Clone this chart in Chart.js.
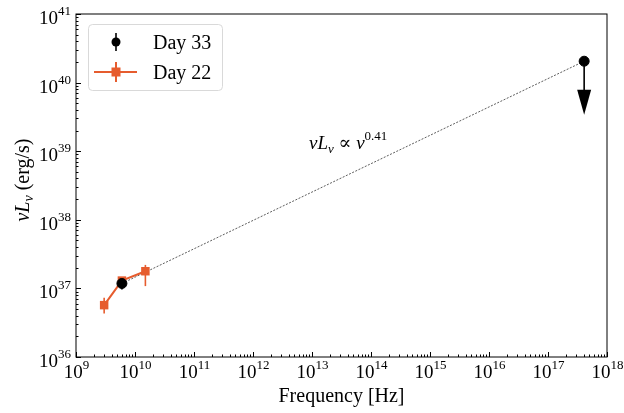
<!DOCTYPE html>
<html>
<head>
<meta charset="utf-8">
<script src="https://cdn.jsdelivr.net/npm/chart.js@4"></script>
<style>html,body{margin:0;padding:0;background:#fff}</style>
</head>
<body>
<canvas id="chart1" width="624" height="413"></canvas>
<script>
// radio SED, two epochs + X-ray upper limit
const freq33 = [6e9];
const lum33 = [1.18e37];
const lum33Lo = [0.96e37];
const lum33Hi = [1.30e37];

const freq22 = [3e9, 6e9, 1.5e10];
const lum22 = [5.7e36, 1.3e37, 1.78e37];
const lum22Lo = [4.3e36, 1.2e37, 1.08e37];
const lum22Hi = [7.3e36, 1.42e37, 2.2e37];

const xrayFreq = [4.1e17];
const xrayLimit = [2.05e40];
const xrayArrowTip = [3.4e39];

const xDecades = [9, 10, 11, 12, 13, 14, 15, 16, 17, 18];
const yDecades = [36, 37, 38, 39, 40, 41];

const orange = '#e65c2e';
const serif = '"Liberation Serif", "DejaVu Serif", serif';

const errorBars = {
  id: 'errorBars',
  beforeDatasetsDraw(chart) {
    const ctx = chart.ctx, xs = chart.scales.x, ys = chart.scales.y;
    ctx.save();
    ctx.lineWidth = 1.6;
    ctx.strokeStyle = orange;
    freq22.forEach((f, i) => {
      const px = xs.getPixelForValue(f);
      ctx.beginPath();
      ctx.moveTo(px, ys.getPixelForValue(lum22Lo[i]));
      ctx.lineTo(px, ys.getPixelForValue(lum22Hi[i]));
      ctx.stroke();
    });
    ctx.restore();
  },
  afterDatasetsDraw(chart) {
    const ctx = chart.ctx, xs = chart.scales.x, ys = chart.scales.y;
    ctx.save();
    ctx.lineWidth = 1.6;
    ctx.strokeStyle = '#000';
    freq33.forEach((f, i) => {
      const px = xs.getPixelForValue(f);
      ctx.beginPath();
      ctx.moveTo(px, ys.getPixelForValue(lum33Lo[i]));
      ctx.lineTo(px, ys.getPixelForValue(lum33Hi[i]));
      ctx.stroke();
    });
    // upper limit arrow
    const ax = xs.getPixelForValue(xrayFreq[0]);
    const ay0 = ys.getPixelForValue(xrayLimit[0]);
    const ay1 = ys.getPixelForValue(xrayArrowTip[0]);
    ctx.beginPath();
    ctx.moveTo(ax, ay0);
    ctx.lineTo(ax, ay1 - 24);
    ctx.stroke();
    ctx.fillStyle = '#000';
    ctx.beginPath();
    ctx.moveTo(ax - 7, ay1 - 25);
    ctx.lineTo(ax + 7, ay1 - 25);
    ctx.lineTo(ax, ay1);
    ctx.closePath();
    ctx.fill();
    ctx.restore();
  }
};

function pow10(ctx, exp, x, y, align) {
  ctx.font = '19px ' + serif;
  const wb = ctx.measureText('10').width;
  ctx.font = '13px ' + serif;
  const we = ctx.measureText(String(exp)).width;
  let x0 = align === 'right' ? x - wb - we : x - (wb + we) / 2;
  ctx.textAlign = 'left';
  ctx.font = '19px ' + serif;
  ctx.fillText('10', x0, y);
  ctx.font = '13px ' + serif;
  ctx.fillText(String(exp), x0 + wb, y - 9);
}

const axesFrame = {
  id: 'axesFrame',
  afterDraw(chart) {
    const ctx = chart.ctx, a = chart.chartArea;
    const xs = chart.scales.x, ys = chart.scales.y;
    ctx.save();
    ctx.strokeStyle = '#000';
    ctx.lineWidth = 1;
    ctx.strokeRect(a.left, a.top, a.right - a.left, a.bottom - a.top);
    ctx.fillStyle = '#000';
    ctx.textBaseline = 'alphabetic';
    // x ticks
    xDecades.forEach((d, k) => {
      const px = Math.round(xs.getPixelForValue(Math.pow(10, d))) + 0.5;
      ctx.beginPath();
      ctx.moveTo(px, a.bottom);
      ctx.lineTo(px, a.bottom - 5);
      ctx.stroke();
      pow10(ctx, d, px, a.bottom + 21, 'center');
      if (k < xDecades.length - 1) {
        for (let m = 2; m < 10; m++) {
          const mx = Math.round(xs.getPixelForValue(m * Math.pow(10, d))) + 0.5;
          ctx.beginPath();
          ctx.moveTo(mx, a.bottom);
          ctx.lineTo(mx, a.bottom - 2.5);
          ctx.stroke();
        }
      }
    });
    // y ticks
    yDecades.forEach((d, k) => {
      const py = Math.round(ys.getPixelForValue(Math.pow(10, d))) + 0.5;
      ctx.beginPath();
      ctx.moveTo(a.left, py);
      ctx.lineTo(a.left + 5, py);
      ctx.stroke();
      pow10(ctx, d, a.left - 5, py + 9, 'right');
      if (k < yDecades.length - 1) {
        for (let m = 2; m < 10; m++) {
          const my = Math.round(ys.getPixelForValue(m * Math.pow(10, d))) + 0.5;
          ctx.beginPath();
          ctx.moveTo(a.left, my);
          ctx.lineTo(a.left + 2.5, my);
          ctx.stroke();
        }
      }
    });
    // axis titles
    ctx.textAlign = 'center';
    ctx.font = '20px ' + serif;
    ctx.fillText('Frequency [Hz]', (a.left + a.right) / 2, 402);

    ctx.save();
    ctx.translate(29, 180);
    ctx.rotate(-Math.PI / 2);
    ctx.textAlign = 'left';
    const parts = [
      ['italic 20px ' + serif, 'νL', 0],
      ['italic 14px ' + serif, 'ν', 4],
      ['20px ' + serif, ' (erg/s)', 0]
    ];
    let tw = 0;
    parts.forEach(p => { ctx.font = p[0]; tw += ctx.measureText(p[1]).width; });
    let cx = -tw / 2;
    parts.forEach(p => {
      ctx.font = p[0];
      ctx.fillText(p[1], cx, p[2]);
      cx += ctx.measureText(p[1]).width;
    });
    ctx.restore();

    // slope annotation
    ctx.textAlign = 'left';
    const ann = [
      ['italic 19px ' + serif, 'νL', 0],
      ['italic 13px ' + serif, 'ν', 4],
      ['19px ' + serif, ' ∝ ', 0],
      ['italic 19px ' + serif, 'ν', 0],
      ['13px ' + serif, '0.41', -9]
    ];
    let ax = 309;
    ann.forEach(p => {
      ctx.font = p[0];
      ctx.fillText(p[1], ax, 149 + p[2]);
      ax += ctx.measureText(p[1]).width;
    });

    // legend
    const lx = 88, ly = 24, lw = 134, lh = 66;
    ctx.strokeStyle = '#d9d9d9';
    ctx.fillStyle = 'rgba(255,255,255,0.8)';
    ctx.beginPath();
    ctx.roundRect(lx + 0.5, ly + 0.5, lw, lh, 4);
    ctx.fill();
    ctx.stroke();
    // Day 33 entry
    ctx.strokeStyle = '#000';
    ctx.fillStyle = '#000';
    ctx.lineWidth = 1.6;
    ctx.beginPath();
    ctx.moveTo(116, 33);
    ctx.lineTo(116, 51);
    ctx.stroke();
    ctx.beginPath();
    ctx.arc(116, 42, 4.5, 0, Math.PI * 2);
    ctx.fill();
    // Day 22 entry
    ctx.strokeStyle = orange;
    ctx.fillStyle = orange;
    ctx.lineWidth = 2;
    ctx.beginPath();
    ctx.moveTo(94, 72);
    ctx.lineTo(137, 72);
    ctx.moveTo(116, 62);
    ctx.lineTo(116, 82);
    ctx.stroke();
    ctx.fillRect(111.5, 67.5, 9, 9);
    ctx.fillStyle = '#000';
    ctx.font = '20px ' + serif;
    ctx.fillText('Day 33', 153, 49);
    ctx.fillText('Day 22', 153, 79);
    ctx.restore();
  }
};

const data = {
  datasets: [
    {
      label: 'Day 33',
      data: freq33.map((f, i) => ({x: f, y: lum33[i]})).concat([{x: xrayFreq[0], y: xrayLimit[0]}]),
      showLine: false,
      backgroundColor: '#000',
      borderColor: '#000',
      pointRadius: 5,
      pointStyle: 'circle'
    },
    {
      label: 'Day 22',
      data: freq22.map((f, i) => ({x: f, y: lum22[i]})),
      showLine: true,
      borderColor: orange,
      backgroundColor: orange,
      borderWidth: 2,
      pointStyle: 'rect',
      pointRadius: 6,
      pointBorderWidth: 0
    },
    {
      label: 'slope',
      data: [{x: freq33[0], y: lum33[0]}, {x: xrayFreq[0], y: xrayLimit[0]}],
      showLine: true,
      borderColor: '#333',
      borderWidth: 0.8,
      borderDash: [2, 1.5],
      pointRadius: 0
    }
  ]
};

const config = {
  type: 'scatter',
  data: data,
  options: {
    responsive: false,
    animation: false,
    devicePixelRatio: 1,
    layout: {padding: {left: 76, right: 17, top: 14, bottom: 56}},
    plugins: {legend: {display: false}, tooltip: {enabled: false}},
    scales: {
      x: {type: 'logarithmic', min: 1e9, max: 1e18, display: false},
      y: {type: 'logarithmic', min: 1e36, max: 1e41, display: false}
    }
  },
  plugins: [errorBars, axesFrame]
};

const myChart = new Chart(document.getElementById('chart1'), config);
</script>
</body>
</html>
